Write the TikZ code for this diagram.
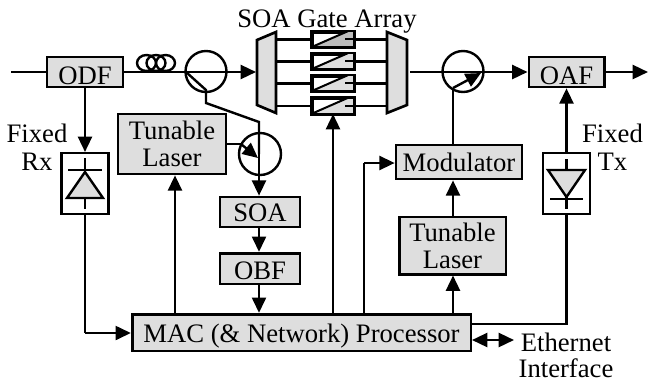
\documentclass[tikz,border=0pt]{standalone}
\usepackage{fontspec}
\setmainfont{Liberation Serif}
\usetikzlibrary{arrows.meta,calc}
\definecolor{boxgray}{gray}{0.87}
\definecolor{gatedark}{gray}{0.74}
\tikzset{
  x=0.75pt,y=-0.75pt,
  every node/.style={font=\fontsize{20pt}{20.25pt}\selectfont},
  block/.style={draw,line width=2pt,fill=boxgray,inner sep=0pt,align=center},
  bl/.style={text depth=1pt,text height={#1*1.5pt+1pt}},
  conn/.style={line width=1.8pt},
  arr/.style={line width=1.8pt,-{Triangle[length=11.5pt,width=10.5pt]}},
  ring/.style={draw,circle,line width=1.8pt,inner sep=0pt,minimum size=41*0.75pt},
  gatebox/.style={draw,line width=2pt,fill=white,inner sep=0pt,minimum width=30pt,minimum height=10.5pt},
  mux/.style={draw,line width=2pt,fill=boxgray,line join=miter},
  pdbox/.style={draw,line width=1.8pt,fill=white,inner sep=0pt,minimum width=35.5pt,minimum height=45.5pt},
  plain/.style={inner sep=0pt,align=center}
}
\begin{document}
\begin{tikzpicture}
\useasboundingbox (0,0) rectangle (648,383);
% named free ends
\coordinate (in) at (11,72);
\coordinate (out) at (648,72);
\coordinate (muxLin) at (256,72);
\coordinate (muxRout) at (410,72);
\coordinate (eth) at (514,340);
% blocks
\node[block,bl=12,minimum width=57pt,minimum height=22.5pt] (odf) at (85,72) {ODF};
\node[block,bl=12,minimum width=56.5pt,minimum height=22.5pt] (oaf) at (566.5,72) {OAF};
\node[block,minimum width=81pt,minimum height=45pt] (tl1) at (172,144) {Tunable\\Laser};
\node[block,minimum width=80pt,minimum height=43pt] (tl2) at (452.5,245.5) {Tunable\\Laser};
\node[block,bl=9,minimum width=94.5pt,minimum height=25.5pt] (mod) at (459,162) {Modulator};
\node[block,bl=9,minimum width=60pt,minimum height=22.5pt] (soa) at (260,212) {SOA};
\node[block,bl=10.5,minimum width=60pt,minimum height=23pt] (obf) at (260,268.5) {OBF};
\node[block,bl=10,minimum width=254pt,minimum height=27.5pt] (mac) at (301.5,332.5) {MAC (\& Network) Processor};
% rings
\node[ring] (c1) at (206,71.5) {};
\node[ring] (c2) at (463,71.5) {};
\node[ring,minimum size=42*0.75pt] (c3) at (260,154) {};
% photodiode boxes
\node[pdbox] (rx) at (85,183.5) {};
\node[pdbox] (tx) at (566.5,183.5) {};
% connector anchor points
\coordinate (m1) at (85,333);
\coordinate (tlup) at (175,314);
\coordinate (gup) at (333,314);
\coordinate (modup) at (364,314);
\coordinate (modbend) at (364,163);
\coordinate (tl2up) at (453,314);
\coordinate (txbend) at (566.5,324);
\coordinate (d1) at (206,90);
\coordinate (d2) at (206,103);
\coordinate (d3) at (259,122);
\coordinate (lz) at (241,144);
\coordinate (ltip) at (258,158);
\coordinate (mb) at (453,88);
\coordinate (mtip) at (481,73);
% connectors
\draw[conn] (in) -- (odf.west);
\draw[arr] (odf.east) -- (muxLin);
\draw[arr] (muxRout) -- (oaf.west);
\draw[arr] (oaf.east) -- (out);
\draw[arr] (odf.south) -- (rx.north);
\draw[conn] (rx.south) -- (m1);
\draw[arr] (m1) -- (mac.west |- m1);
\draw[arr] (tlup) -- (tl1.south -| tlup);
\draw[arr] (gup) -- (333,114);
\draw[conn] (modup) -- (modbend);
\draw[arr] (modbend) -- (mod.west |- modbend);
\draw[arr] (tl2up) -- (tl2.south -| tl2up);
\draw[arr] (tl2.north -| tl2up) -- (mod.south -| tl2up);
\draw[conn] (mac.east |- txbend) -- (txbend) -- (tx.south);
\draw[arr] (tx.north) -- (oaf.south);
\draw[line width=1.8pt,{Triangle[length=11.5pt,width=10.5pt]}-{Triangle[length=11.5pt,width=10.5pt]}] (472,340) -- (eth);
\draw[conn,line join=miter] (186,72) -- (d1) -- (d2) -- (d3) -- (259,154);
\draw[arr] (259,154) -- (soa.north -| 259,0);
\draw[arr] (soa.south -| 259,0) -- (obf.north -| 259,0);
\draw[arr] (obf.south -| 259,0) -- (mac.north -| 259,0);
\draw[conn] (tl1.east |- lz) -- (lz);
\draw[arr] (lz) -- (ltip);
\draw[conn] (mod.north -| mb) -- (mb);
\draw[arr] (mb) -- (mtip);
% coil
\foreach \cx in {146.5,156,165.5}
  \draw[line width=1.8pt] (\cx,63) ellipse [x radius=9.5,y radius=8];
% gates and fan lines
\foreach \i/\gy/\shade in {1/39.3/gatedark,2/61.3/boxgray,3/83.3/boxgray,4/106/boxgray}{
  \node[gatebox] (g\i) at (333,\gy) {};
  \coordinate (gl\i) at (276,\gy);
  \coordinate (gr\i) at (387,\gy);
  \draw[conn] (gl\i) -- (g\i.west);
  \draw[conn] (g\i.east) -- (gr\i);
  \fill[\shade] (g\i.south west) -- ($(g\i.north east)+(-6,0)$) -- (g\i.north east) -- (g\i.south east) -- cycle;
  \draw[line width=2pt] (g\i.south west) rectangle (g\i.north east);
  \draw[line width=1.5pt] ($(g\i.south west)+(1,-1)$) -- ($(g\i.north east)+(-6,0)$);
  \draw[line width=1.5pt] (g\i.east) -- ++(-9,0);
}
% muxes
\draw[mux] (257,40) -- (276,32) -- (276,113) -- (257,105) -- cycle;
\draw[mux] (387,32) -- (407,40) -- (407,105) -- (387,113) -- cycle;
% photodiodes
\draw[line width=1.8pt] (85,158) -- (85,172);
\draw[line width=1.8pt] (68,170) -- (102,170);
\draw[line width=1.8pt,fill=boxgray] (85,172) -- (103,198) -- (67,198) -- cycle;
\draw[line width=1.8pt] (85,198) -- (85,209);
\draw[line width=1.8pt] (566.5,159) -- (566.5,170);
\draw[line width=1.8pt,fill=boxgray] (548,170) -- (585,170) -- (566.5,197) -- cycle;
\draw[line width=1.8pt] (550,199) -- (583,199);
\draw[line width=1.8pt] (566.5,197) -- (566.5,209);
% labels
\node[plain,anchor=base] (lsoa) at (327,27) {SOA Gate Array};
\node[plain,anchor=base] (lfx) at (37,142) {Fixed};
\node[plain,anchor=base] (lrx) at (37,170) {Rx};
\node[plain,anchor=base] (lft) at (612.5,142) {Fixed};
\node[plain,anchor=base] (ltx) at (612.5,170) {Tx};
\node[plain,anchor=base] (leth) at (566,351) {Ethernet};
\node[plain,anchor=base] (lif) at (566,377) {Interface};
\end{tikzpicture}
\end{document}
